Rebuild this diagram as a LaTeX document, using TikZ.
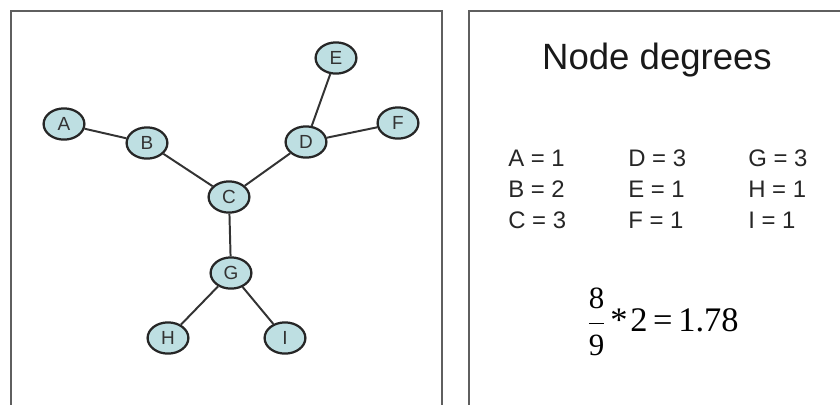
\documentclass[tikz,border=0pt]{standalone}
\usepackage{amsmath}
\usepackage{fontspec}
\setmainfont{Liberation Sans}
\newfontfamily\serifnum{Liberation Serif}
\usepackage{tikz}
\usetikzlibrary{positioning, shapes.geometric}

\definecolor{vertexfill}{RGB}{190,223,226}
\definecolor{framegray}{RGB}{95,95,95}

\tikzset{
  deg/vertex/.style={draw=black!85, line width=1.6pt, ellipse, fill=vertexfill,
    minimum width=1.02cm, minimum height=0.78cm, inner sep=0pt,
    font=\fontsize{13.5}{15}\selectfont, text=black!80},
  deg/link/.style={draw=black!80, line width=1.4pt},
  deg/frame/.style={draw=framegray, line width=1.4pt},
}

\begin{document}
\begin{tikzpicture}[
  x=0.025cm, y=-0.025cm,
  degtext/.style={anchor=west, inner sep=0pt,
    font=\fontsize{17}{18}\selectfont, text=black!85},
  heading/.style={font=\fontsize{26}{30}\selectfont, text=black!90},
]
\useasboundingbox (0,0) rectangle (840,404);

% ── Panel frames ────────────────────────────────────────
\draw[deg/frame] (11,420) -- (11,11) -- (442,11) -- (442,420);
\draw[deg/frame] (469,420) -- (469,11) -- (860,11);

% ── Graph ───────────────────────────────────────────────
\node[deg/vertex] (a) at (64,124) {A};
\node[deg/vertex] (b) at (147,143) {B};
\node[deg/vertex] (c) at (229,197) {C};
\node[deg/vertex] (d) at (306,142) {D};
\node[deg/vertex] (e) at (336,58) {E};
\node[deg/vertex] (f) at (398,123) {F};
\node[deg/vertex] (g) at (231,273) {G};
\node[deg/vertex] (h) at (168,338) {H};
\node[deg/vertex] (i) at (285,338) {I};

\draw[deg/link] (a) -- (b);
\draw[deg/link] (b) -- (c);
\draw[deg/link] (c) -- (d);
\draw[deg/link] (d) -- (e);
\draw[deg/link] (d) -- (f);
\draw[deg/link] (c) -- (g);
\draw[deg/link] (g) -- (h);
\draw[deg/link] (g) -- (i);

% ── Degree list ─────────────────────────────────────────
\node[heading] (title) at (657,60) {Node degrees};

\node[degtext] (dega) at (508,158) {A = 1};
\node[degtext] (degb) at (508,189) {B = 2};
\node[degtext] (degc) at (508,220) {C = 3};
\node[degtext] (degd) at (628,158) {D = 3};
\node[degtext] (dege) at (628,189) {E = 1};
\node[degtext] (degf) at (628,220) {F = 1};
\node[degtext] (degg) at (748,158) {G = 3};
\node[degtext] (degh) at (748,189) {H = 1};
\node[degtext] (degi) at (748,220) {I = 1};

% Average degree
\node[font=\fontsize{24.5}{26}\selectfont\serifnum, anchor=west, inner sep=0pt]
  (avg) at (587,322)
  {$\dfrac{\text{\fontsize{22}{24}\selectfont 8}}{\text{\fontsize{22}{24}\selectfont 9}}$\kern3pt*\kern2pt2\kern4pt=\kern4pt1.78};

\end{tikzpicture}
\end{document}
